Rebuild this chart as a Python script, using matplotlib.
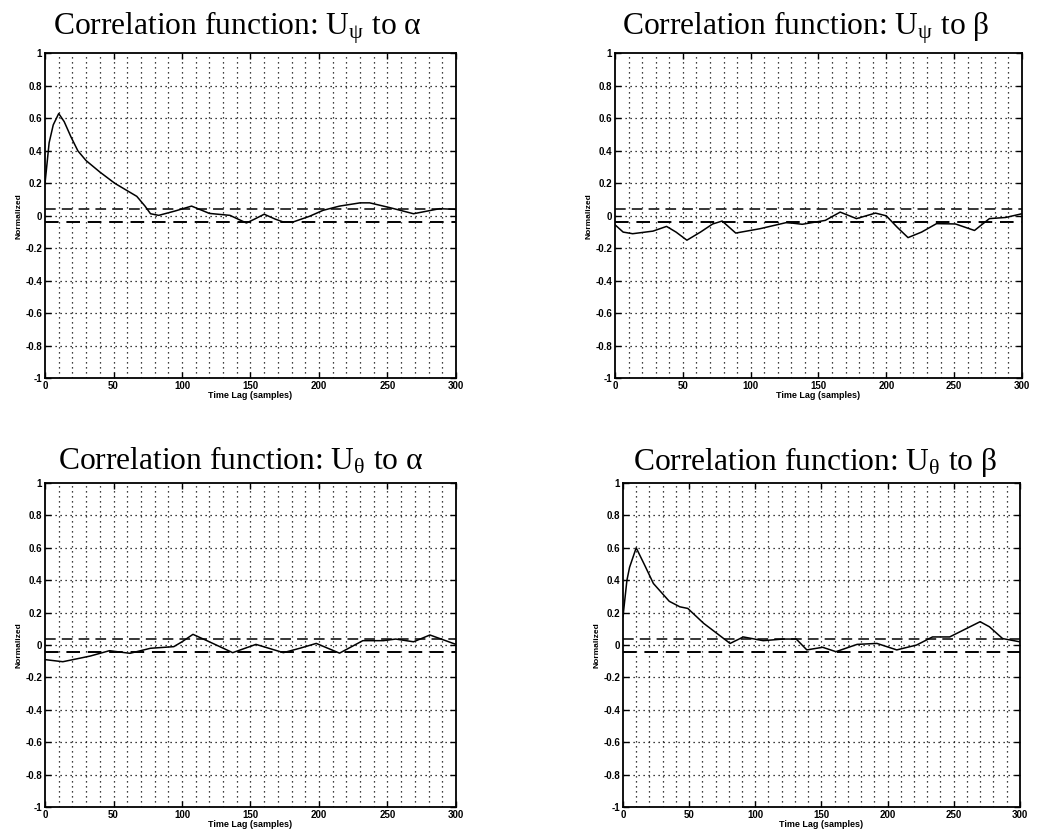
import matplotlib
matplotlib.use("Agg")
import matplotlib.pyplot as plt

plt.rcParams["font.family"] = ["Liberation Sans", "DejaVu Sans"]
plt.rcParams["mathtext.fontset"] = "custom"
plt.rcParams["mathtext.rm"] = "Liberation Serif"
plt.rcParams["mathtext.it"] = "Liberation Serif:italic"

# lag samples / normalized correlation
lag_psi_alpha = [0, 3, 6, 10, 14, 19, 24, 30, 40, 51, 60, 67, 73, 77, 83, 95, 107, 120, 135,
                 147, 153, 160, 168, 174, 181, 193, 203, 215, 230, 237, 252, 269, 288, 300]
corr_psi_alpha = [0.20, 0.45, 0.56, 0.63, 0.58, 0.485, 0.40, 0.34, 0.27, 0.20, 0.155, 0.12,
                  0.06, 0.013, 0.003, 0.03, 0.06, 0.015, 0.003, -0.044, -0.02, 0.01, -0.02,
                  -0.038, -0.038, -0.003, 0.034, 0.06, 0.08, 0.08, 0.05, 0.013, 0.044, 0.04]

lag_psi_beta = [0, 6, 13, 28, 38, 45, 53, 63, 72, 79, 89, 107, 126, 131, 138, 155, 166,
                178, 192, 200, 208, 216, 226, 237, 251, 265, 276, 288, 300]
corr_psi_beta = [-0.055, -0.1, -0.11, -0.094, -0.065, -0.1, -0.15, -0.1, -0.05, -0.032, -0.106,
                 -0.079, -0.042, -0.045, -0.052, -0.028, 0.023, -0.017, 0.017, 0.0, -0.07,
                 -0.134, -0.1, -0.048, -0.05, -0.09, -0.017, -0.01, 0.013]

lag_theta_alpha = [0, 13, 33, 47, 62, 77, 94, 100, 108, 120, 137, 154, 174, 186, 198, 215,
                   232, 247, 256, 269, 281, 300]
corr_theta_alpha = [-0.09, -0.103, -0.068, -0.035, -0.051, -0.02, -0.01, 0.02, 0.066, 0.02,
                    -0.047, 0.004, -0.047, -0.02, 0.01, -0.05, 0.027, 0.027, 0.037, 0.02,
                    0.062, 0.004]

lag_theta_beta = [0, 3, 5, 10, 16, 23, 35, 43, 49, 55, 61, 71, 81, 91, 106, 121, 131, 139,
                  151, 161, 177, 192, 207, 222, 234, 247, 270, 277, 287, 300]
corr_theta_beta = [0.175, 0.40, 0.48, 0.60, 0.50, 0.38, 0.27, 0.236, 0.226, 0.18, 0.134,
                   0.072, 0.01, 0.05, 0.027, 0.037, 0.037, -0.03, -0.014, -0.041, 0.004, 0.01,
                   -0.03, 0.0, 0.05, 0.05, 0.144, 0.113, 0.04, 0.02]

titles = [
    "Correlation function: U$_\\mathrm{\u03c8}$ to \u03b1",
    "Correlation function: U$_\\mathrm{\u03c8}$ to \u03b2",
    "Correlation function: U$_\\mathrm{\u03b8}$ to \u03b1",
    "Correlation function: U$_\\mathrm{\u03b8}$ to \u03b2",
]
series = [
    (lag_psi_alpha, corr_psi_alpha),
    (lag_psi_beta, corr_psi_beta),
    (lag_theta_alpha, corr_theta_alpha),
    (lag_theta_beta, corr_theta_beta),
]
conf_level = 0.04

x_major = [0, 50, 100, 150, 200, 250, 300]
x_minor = list(range(0, 301, 10))
y_ticks = [-1, -0.8, -0.6, -0.4, -0.2, 0, 0.2, 0.4, 0.6, 0.8, 1]
y_labels = ["-1", "-0.8", "-0.6", "-0.4", "-0.2", "0", "0.2", "0.4", "0.6", "0.8", "1"]

# axes boxes in figure fractions (left, bottom, width, height)
boxes = [
    [0.043, 0.547, 0.3925, 0.389],
    [0.5874, 0.547, 0.3887, 0.389],
    [0.043, 0.0335, 0.3925, 0.388],
    [0.595, 0.0335, 0.379, 0.388],
]
title_x = [0.468, 0.468, 0.476, 0.484]
title_pad = [13.5, 13.5, 9.5, 9.5]

fig = plt.figure(figsize=(10.47, 8.35), dpi=100)

for box, title, tx, tpad, (lag, corr) in zip(boxes, titles, title_x, title_pad, series):
    ax = fig.add_axes(box)
    ax.set_xlim(0, 300)
    ax.set_ylim(-1, 1)

    # grid: dotted verticals every 10 samples, horizontals every 0.2
    for gx in x_minor[1:-1]:
        ax.axvline(gx, color="black", linestyle=(0, (1, 3)), linewidth=0.9, zorder=1)
    for gy in y_ticks[1:-1]:
        ax.axhline(gy, color="black", linestyle=(0, (1, 3)), linewidth=0.9, zorder=1)

    ax.axhline(conf_level, color="black", linestyle=(0, (7, 4)), linewidth=1.1, zorder=2)
    ax.axhline(-conf_level, color="black", linestyle=(0, (7, 4)), linewidth=1.4, zorder=2)

    ax.plot(lag, corr, color="black", linewidth=1.1, zorder=3)

    ax.set_xticks(x_major)
    ax.set_xticklabels([str(v) for v in x_major])
    ax.set_yticks(y_ticks)
    ax.set_yticklabels(y_labels)
    ax.tick_params(direction="in", top=True, right=True, length=4, width=1,
                   labelsize=7, pad=2)
    for lbl in ax.get_xticklabels() + ax.get_yticklabels():
        lbl.set_fontweight("bold")
    for sp in ax.spines.values():
        sp.set_linewidth(1.3)

    ax.set_xlabel("Time Lag (samples)", fontsize=6.5, fontweight="bold", labelpad=0)
    ax.set_ylabel("Normalized", fontsize=6, fontweight="bold", labelpad=2)
    ax.set_title(title, fontsize=22.7, family="Liberation Serif", x=tx, pad=tpad)

fig.savefig("out.png", dpi=100, facecolor="white")
